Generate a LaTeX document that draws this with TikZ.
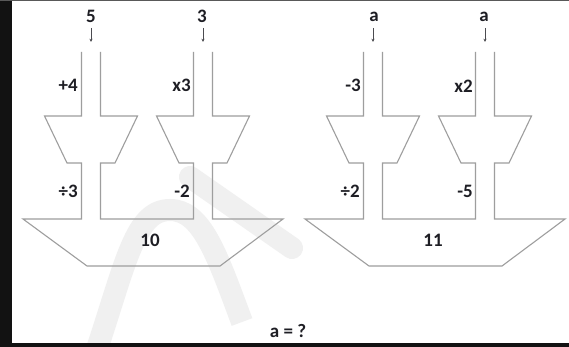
\documentclass[tikz,border=0pt]{standalone}
\usepackage{fontspec}
\setmainfont{Carlito}
\usetikzlibrary{arrows.meta}
\definecolor{linegray}{RGB}{158,158,158}
\definecolor{wmgray}{RGB}{240,240,240}
\definecolor{txt}{RGB}{30,30,36}
\tikzset{
  outline/.style={draw=linegray, line width=1.1pt, line join=miter},
  lbl/.style={font=\bfseries\fontsize{19}{22}\selectfont, text=txt, inner sep=0pt},
  oplbl/.style={lbl, anchor=base east},
  numlbl/.style={lbl, anchor=base},
  feed/.style={draw=txt!80, line width=0.7pt, -{Stealth[length=3.2pt,width=3pt]}},
  wm/.style={draw=wmgray, line width=22pt},
}
\begin{document}
\begin{tikzpicture}[x=1pt,y=-1pt]
\useasboundingbox (0,0) rectangle (569,347);
\fill[white] (0,0) rectangle (569,347);
% watermark
\draw[wm] (96,352) .. controls (126,262) and (135,210) .. (170,210)
  .. controls (202,210) and (217,255) .. (242,322);
\draw[wm, line cap=round] (190,177) -- (292,248);
% frame
\fill[black!93] (0,0) rectangle (12,347);
\fill[black!93] (0,343) rectangle (569,347);
\fill[black!65] (0,0) rectangle (569,1.3);
% machines
\foreach \s/\m in {0/L, 282/R}{
\begin{scope}[xshift=\s pt]
\draw[outline] (81.5,52) -- (81.5,116) -- (44.5,116) -- (67,163) -- (81.5,163) -- (81.5,219)
  -- (23,219) -- (87,266) -- (220,266) -- (283,219) -- (212.5,219) -- (212.5,163)
  -- (227,163) -- (249.5,116) -- (212.5,116) -- (212.5,52);
\draw[outline] (193.5,52) -- (193.5,116) -- (156.5,116) -- (179,163) -- (193.5,163) -- (193.5,219)
  -- (100.5,219) -- (100.5,163) -- (115,163) -- (137.5,116) -- (100.5,116) -- (100.5,52);
\coordinate (\m a1) at (91,28);
\coordinate (\m b1) at (91,42);
\coordinate (\m a2) at (203,28);
\coordinate (\m b2) at (203,42);
\draw[feed] (\m a1) -- (\m b1);
\draw[feed] (\m a2) -- (\m b2);
\end{scope}
}
% labels left machine
\node[numlbl] (in1) at (91,23) {5};
\node[numlbl] (in2) at (202,23) {3};
\node[oplbl] (op1) at (78,92) {+4};
\node[oplbl] (op2) at (191,92) {x3};
\node[oplbl] (op3) at (78,197) {÷3};
\node[oplbl] (op4) at (190,197) {-2};
\node[numlbl] (res1) at (150,246) {10};
% labels right machine
\node[numlbl] (in3) at (374,22) {a};
\node[numlbl] (in4) at (484,22) {a};
\node[oplbl] (op5) at (361,92) {-3};
\node[oplbl] (op6) at (473,93) {x2};
\node[oplbl] (op7) at (360,197) {÷2};
\node[oplbl] (op8) at (473,197) {-5};
\node[numlbl] (res2) at (433,246) {11};
% question
\node[numlbl] (q) at (288,337) {a = ?};
\end{tikzpicture}
\end{document}
